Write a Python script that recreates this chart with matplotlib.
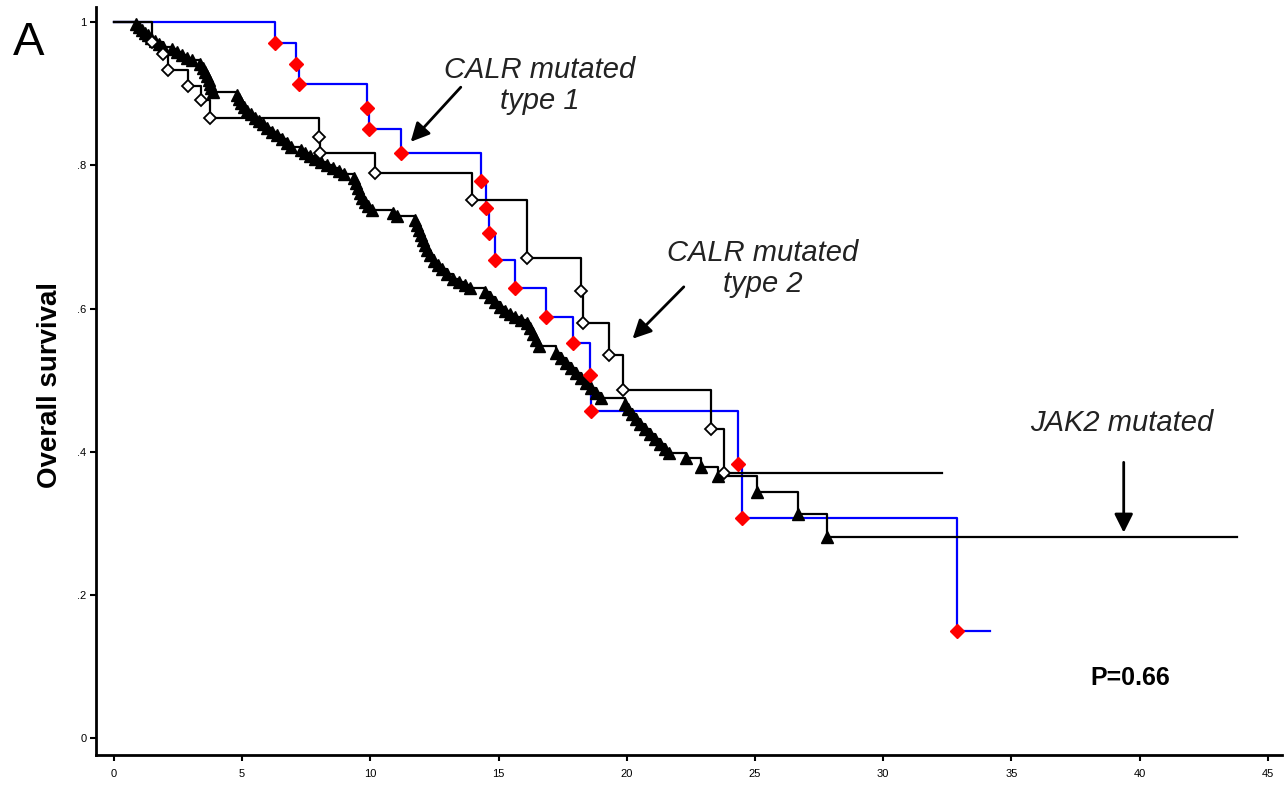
import matplotlib
matplotlib.use('Agg')
import matplotlib.pyplot as plt

plt.rcParams['font.family'] = ['Liberation Sans', 'DejaVu Sans']

# CALR mutated type 1 (blue line, red diamonds)
calr1_time = [6.3, 7.1, 7.2, 9.88, 9.95, 11.2, 14.3, 14.5, 14.62, 14.85,
              15.65, 16.85, 17.9, 18.55, 18.6, 24.35, 24.5, 32.88]
calr1_surv = [0.971, 0.941, 0.913, 0.880, 0.851, 0.817, 0.778, 0.740, 0.705, 0.668,
              0.628, 0.588, 0.552, 0.507, 0.457, 0.383, 0.307, 0.149]
calr1_end = 34.15

# CALR mutated type 2 (black line, open diamonds)
calr2_time = [1.5, 1.9, 2.1, 2.9, 3.4, 3.75, 8.0, 8.05, 10.2, 13.96,
              16.1, 18.2, 18.3, 19.3, 19.85, 23.3, 23.8]
calr2_surv = [0.972, 0.955, 0.933, 0.911, 0.891, 0.866, 0.840, 0.817, 0.789, 0.751,
              0.670, 0.624, 0.580, 0.535, 0.486, 0.432, 0.370]
calr2_end = 32.3

# JAK2 mutated (black line, triangles)
jak2_time = [0.86, 0.97, 1.09, 1.21, 1.33, 1.44, 1.60, 1.75, 1.91,
             2.26, 2.46, 2.65, 2.85, 3.04,
             3.35, 3.47, 3.55, 3.63, 3.70, 3.74, 3.78, 3.86,
             4.80, 4.87, 4.95, 5.07, 5.19, 5.34, 5.50, 5.65, 5.81, 5.96,
             6.16, 6.35, 6.55, 6.74, 6.90,
             7.29, 7.45, 7.64, 7.84, 8.07, 8.30, 8.54, 8.77, 8.97,
             9.36, 9.43, 9.51, 9.59, 9.67, 9.79, 9.90, 10.06,
             10.88, 11.03,
             11.73, 11.81, 11.89, 11.97, 12.05, 12.12, 12.20, 12.32,
             12.48, 12.63, 12.79, 12.98, 13.22, 13.45, 13.68, 13.88,
             14.46, 14.66, 14.85, 15.05, 15.24, 15.44, 15.63, 15.87, 16.10,
             16.22, 16.33, 16.45, 16.57,
             17.23, 17.43, 17.62, 17.82, 18.01, 18.21, 18.40, 18.60, 18.79, 18.99,
             19.92, 20.04, 20.19, 20.35, 20.51, 20.70, 20.90, 21.09, 21.29, 21.48, 21.64,
             22.30, 22.88, 23.55, 25.07, 26.67, 27.80]
jak2_surv = [0.997, 0.993, 0.989, 0.985, 0.982, 0.978, 0.973, 0.969, 0.965,
             0.962, 0.958, 0.954, 0.950, 0.947,
             0.941, 0.936, 0.930, 0.925, 0.919, 0.913, 0.908, 0.902,
             0.898, 0.892, 0.887, 0.881, 0.876, 0.872, 0.866, 0.862, 0.858, 0.852,
             0.846, 0.842, 0.837, 0.831, 0.825,
             0.821, 0.817, 0.813, 0.809, 0.804, 0.800, 0.796, 0.792, 0.788,
             0.782, 0.775, 0.768, 0.761, 0.754, 0.749, 0.743, 0.737,
             0.733, 0.729,
             0.723, 0.716, 0.709, 0.703, 0.696, 0.689, 0.682, 0.675,
             0.666, 0.661, 0.655, 0.648, 0.641, 0.637, 0.633, 0.628,
             0.623, 0.616, 0.609, 0.602, 0.596, 0.592, 0.588, 0.584, 0.580,
             0.573, 0.564, 0.556, 0.547,
             0.538, 0.531, 0.524, 0.517, 0.510, 0.503, 0.496, 0.489, 0.482, 0.475,
             0.466, 0.459, 0.453, 0.446, 0.439, 0.432, 0.425, 0.418, 0.411, 0.404, 0.398,
             0.391, 0.378, 0.366, 0.344, 0.313, 0.281]
jak2_end = 43.8

x_ticks = [0, 5, 10, 15, 20, 25, 30, 35, 40, 45]
y_ticks = [0, 0.2, 0.4, 0.6, 0.8, 1.0]
y_tick_labels = ['0', '.2', '.4', '.6', '.8', '1']


def step_xy(times, surv, end):
    xs = [0] + list(times) + [end]
    ys = [1.0] + list(surv) + [surv[-1]]
    return xs, ys


fig = plt.figure(figsize=(12.85, 7.91), dpi=100)
ax = fig.add_axes([0.0747, 0.0455, 0.9233, 0.9455])

# blue first, black lines drawn over it
x, y = step_xy(calr1_time, calr1_surv, calr1_end)
ax.step(x, y, where='post', color='#0000ff', lw=1.6, zorder=2)

x, y = step_xy(calr2_time, calr2_surv, calr2_end)
ax.step(x, y, where='post', color='black', lw=1.6, zorder=3)

x, y = step_xy(jak2_time, jak2_surv, jak2_end)
ax.step(x, y, where='post', color='black', lw=1.6, zorder=3)

# markers
ax.plot(jak2_time, jak2_surv, '^', color='black', ms=8.5, zorder=4)
ax.plot(calr2_time, calr2_surv, 'D', mfc='white', mec='black', mew=1.3, ms=6, zorder=5)
ax.plot(calr1_time, calr1_surv, 'D', color='#ff0000', ms=7.5, zorder=6)

ax.set_xlim(-0.7, 45.57)
ax.set_ylim(-0.0237, 1.021)
ax.set_xticks(x_ticks)
ax.set_xticklabels([str(v) for v in x_ticks])
ax.set_yticks(y_ticks)
ax.set_yticklabels(y_tick_labels)
ax.tick_params(axis='both', labelsize=8, width=1.5, length=4, color='black')
ax.tick_params(axis='x', pad=6)
ax.tick_params(axis='y', pad=3)

ax.spines['top'].set_visible(False)
ax.spines['right'].set_visible(False)
ax.spines['left'].set_linewidth(2)
ax.spines['bottom'].set_linewidth(2)

# annotations
arrow = dict(arrowstyle='-|>', color='black', lw=2, mutation_scale=28)
ax.text(16.6, 0.912, 'CALR mutated\ntype 1', style='italic', fontsize=21,
        ha='center', va='center', color='#222222', linespacing=1.15)
ax.annotate('', xy=(11.5, 0.83), xytext=(13.6, 0.912), arrowprops=arrow)

ax.text(25.3, 0.656, 'CALR mutated\ntype 2', style='italic', fontsize=21,
        ha='center', va='center', color='#222222', linespacing=1.15)
ax.annotate('', xy=(20.15, 0.555), xytext=(22.3, 0.633), arrowprops=arrow)

ax.text(39.3, 0.44, 'JAK2 mutated', style='italic', fontsize=21,
        ha='center', va='center', color='#222222')
ax.annotate('', xy=(39.38, 0.283), xytext=(39.38, 0.389), arrowprops=arrow)

ax.text(39.65, 0.084, 'P=0.66', fontsize=18, fontweight='bold',
        ha='center', va='center')

fig.text(0.039, 0.513, 'Overall survival', rotation=90, fontsize=20,
         fontweight='bold', ha='center', va='center')
fig.text(0.010, 1 - 55 / 791, 'A', fontsize=34, ha='left', va='baseline')

fig.savefig('out.png', dpi=100)
